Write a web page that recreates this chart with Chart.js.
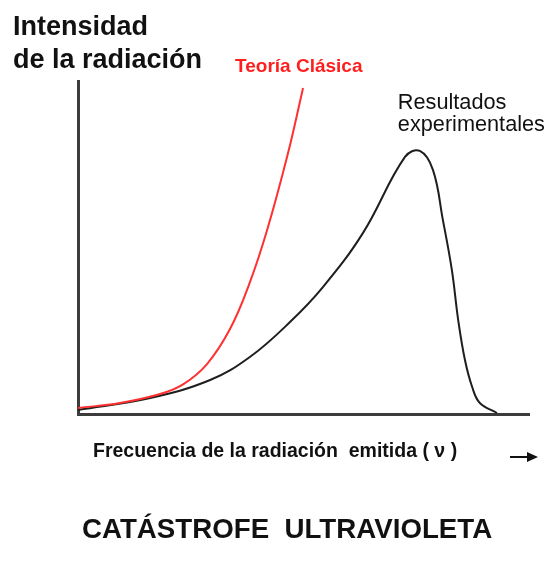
<!DOCTYPE html>
<html>
<head>
<meta charset="utf-8">
<script src="https://cdn.jsdelivr.net/npm/chart.js@4.4.0/dist/chart.umd.min.js"></script>
<style>
  html, body { margin: 0; padding: 0; background: #fff; }
  canvas { display: block; }
</style>
</head>
<body>
<canvas id="grafico" width="557" height="562"></canvas>
<script>
// textos del grafico
const titulo_y = ["Intensidad", "de la radiación"]
const titulo_x = "Frecuencia de la radiación  emitida ( ν )"
const titulo = "CATÁSTROFE  ULTRAVIOLETA"
const etiqueta_clasica = "Teoría Clásica"
const etiqueta_exp = ["Resultados", "experimentales"]

// teoria clasica (unidades arbitrarias 0-100)
const frec_clasica = [0, 9.3, 18.2, 23.3, 28.6, 33.7, 38.1, 42.1, 46.6, 49.9]
const int_clasica = [1.8, 3.3, 6.0, 8.9, 15.0, 25.5, 39.5, 56.0, 78.5, 97.9]

// resultados experimentales
const frec_exp = [0, 16.0, 29.3, 38.1, 47.0, 54.3, 63.2, 72.5, 75.8, 78.7, 80.9, 82.9, 84.3, 85.8, 87.4, 89.1, 92.9]
const int_exp = [1.2, 4.8, 10.2, 17.1, 27.6, 38.1, 54.4, 77.2, 79.0, 73.3, 58.3, 43.2, 28.2, 16.2, 8.1, 3.3, 0.3]

const puntos = (xs, ys) => xs.map((v, i) => ({x: v, y: ys[i]}))

const eje = {
    type: 'linear',
    min: 0,
    max: 100,
    ticks: {display: false},
    grid: {display: false, drawTicks: false},
    border: {display: true, color: '#3c3c3c', width: 3}
}

const textos = {
    id: 'textos',
    afterDraw(chart) {
        const ctx = chart.ctx
        ctx.save()
        ctx.textAlign = 'left'
        ctx.textBaseline = 'alphabetic'

        // titulo del eje y, arriba a la izquierda
        ctx.fillStyle = '#111'
        ctx.font = 'bold 27px "Liberation Sans", Arial, sans-serif'
        ctx.fillText(titulo_y[0], 13, 35)
        ctx.fillText(titulo_y[1], 13, 68)

        // etiquetas de las curvas, junto a su ultimo punto / maximo
        const rojo = chart.getDatasetMeta(0).data
        const fin = rojo[rojo.length - 1]
        ctx.fillStyle = '#ff1e1e'
        ctx.font = 'bold 19px "Liberation Sans", Arial, sans-serif'
        ctx.fillText(etiqueta_clasica, fin.x - 68, fin.y - 16)

        const negro = chart.getDatasetMeta(1).data
        const pico = negro[int_exp.indexOf(Math.max(...int_exp))]
        ctx.fillStyle = '#111'
        ctx.font = '21.7px "Liberation Sans", Arial, sans-serif'
        ctx.fillText(etiqueta_exp[0], pico.x - 22, pico.y - 42)
        ctx.fillText(etiqueta_exp[1], pico.x - 22, pico.y - 20)

        // titulo del eje x y flecha
        ctx.font = 'bold 19.5px "Liberation Sans", Arial, sans-serif'
        ctx.fillText(titulo_x, 93, 457)
        ctx.strokeStyle = '#111'
        ctx.lineWidth = 2
        ctx.beginPath()
        ctx.moveTo(510, 457)
        ctx.lineTo(529, 457)
        ctx.stroke()
        ctx.beginPath()
        ctx.moveTo(527, 452)
        ctx.lineTo(538, 457)
        ctx.lineTo(527, 462)
        ctx.closePath()
        ctx.fill()

        // titulo
        ctx.font = 'bold 27.7px "Liberation Sans", Arial, sans-serif'
        ctx.fillText(titulo, 82, 538)
        ctx.restore()
    }
}

const ctx = document.getElementById('grafico').getContext('2d')
const grafico = new Chart(ctx, {
    type: 'line',
    data: {
        datasets: [{
            label: etiqueta_clasica,
            data: puntos(frec_clasica, int_clasica),
            borderColor: '#ff3030',
            borderWidth: 2,
            pointRadius: 0,
            tension: 0.4,
            fill: false
        }, {
            label: etiqueta_exp.join(' '),
            data: puntos(frec_exp, int_exp),
            borderColor: '#1e1e1e',
            borderWidth: 2,
            pointRadius: 0,
            tension: 0.4,
            fill: false
        }]
    },
    options: {
        responsive: false,
        animation: false,
        layout: {
            padding: {left: 78, right: 28, top: 81, bottom: 148}
        },
        plugins: {
            legend: {display: false},
            tooltip: {enabled: false}
        },
        scales: {
            x: eje,
            y: eje
        }
    },
    plugins: [textos]
});
</script>
</body>
</html>
